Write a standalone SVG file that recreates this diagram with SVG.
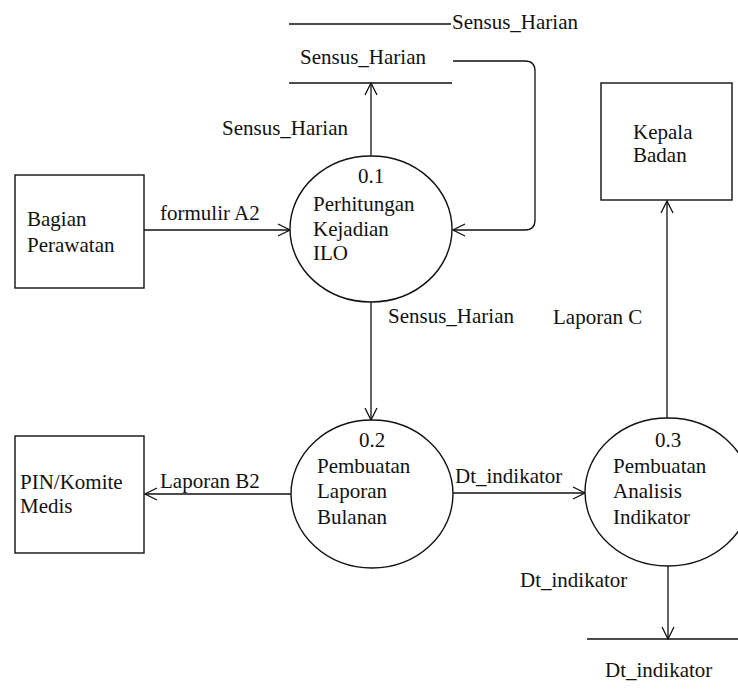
<svg xmlns="http://www.w3.org/2000/svg" width="738" height="696" viewBox="0 0 738 696">
  <style>
    text { font-family: 'Liberation Serif', 'DejaVu Serif', serif; font-size: 21px; fill: #111; }
    .ln { fill: none; stroke: #111; stroke-width: 1.3; }
    .shape { fill: #fff; stroke: #111; stroke-width: 1.4; }
    .mid { text-anchor: middle; }
  </style>
  <defs>
    <marker id="arrow" viewBox="0 0 14 14" refX="13" refY="7" markerWidth="14" markerHeight="14" markerUnits="userSpaceOnUse" orient="auto">
      <polyline points="1,1 13,7 1,13" fill="none" stroke="#111" stroke-width="1.3"/>
    </marker>
  </defs>

  <!-- data flows -->
  <g id="connectors">
    <!-- store Sensus_Harian -> 0.1 -->
    <path class="ln" d="M453 61 H525 Q535 61 535 71 V220 Q535 230 525 230 H453" marker-end="url(#arrow)"/>
    <!-- 0.1 -> store Sensus_Harian -->
    <line class="ln" x1="371" y1="156" x2="371" y2="83" marker-end="url(#arrow)"/>
    <text x="222" y="135">Sensus_Harian</text>
    <!-- Bagian Perawatan -> 0.1 -->
    <line class="ln" x1="144" y1="230" x2="290" y2="230" marker-end="url(#arrow)"/>
    <text x="160" y="220">formulir A2</text>
    <!-- 0.1 -> 0.2 -->
    <line class="ln" x1="371" y1="302" x2="371" y2="420" marker-end="url(#arrow)"/>
    <text x="388" y="323">Sensus_Harian</text>
    <!-- 0.2 -> PIN/Komite Medis -->
    <line class="ln" x1="291" y1="494" x2="145" y2="494" marker-end="url(#arrow)"/>
    <text x="160" y="488">Laporan B2</text>
    <!-- 0.2 -> 0.3 -->
    <line class="ln" x1="453" y1="493" x2="585" y2="493" marker-end="url(#arrow)"/>
    <text x="455" y="483">Dt_indikator</text>
    <!-- 0.3 -> Kepala Badan -->
    <line class="ln" x1="667" y1="418" x2="667" y2="201" marker-end="url(#arrow)"/>
    <text x="553" y="324">Laporan C</text>
    <!-- 0.3 -> store Dt_indikator -->
    <line class="ln" x1="668" y1="566" x2="668" y2="639" marker-end="url(#arrow)"/>
    <text x="520" y="587">Dt_indikator</text>
  </g>

  <!-- data store Sensus_Harian -->
  <g id="store-sensus">
    <line class="ln" x1="289" y1="24" x2="451" y2="24"/>
    <text x="452" y="29">Sensus_Harian</text>
    <text x="300" y="64">Sensus_Harian</text>
    <line class="ln" x1="289" y1="83" x2="452" y2="83"/>
  </g>

  <!-- data store Dt_indikator -->
  <g id="store-dt">
    <line class="ln" x1="587" y1="639" x2="738" y2="639"/>
    <text x="605" y="677">Dt_indikator</text>
  </g>

  <!-- external entities -->
  <g id="bagian-perawatan">
    <rect class="shape" x="15" y="175" width="129" height="113"/>
    <text x="27" y="226">Bagian</text>
    <text x="27" y="252">Perawatan</text>
  </g>
  <g id="pin-komite">
    <rect class="shape" x="15" y="436" width="129" height="117"/>
    <text x="20" y="489">PIN/Komite</text>
    <text x="20" y="513">Medis</text>
  </g>
  <g id="kepala-badan">
    <rect class="shape" x="601" y="83" width="131" height="117"/>
    <text x="633" y="139">Kepala</text>
    <text x="633" y="162">Badan</text>
  </g>

  <!-- processes -->
  <g id="p01">
    <ellipse class="shape" cx="371" cy="229" rx="81" ry="73"/>
    <text class="mid" x="371" y="183">0.1</text>
    <text x="313" y="211">Perhitungan</text>
    <text x="313" y="236">Kejadian</text>
    <text x="313" y="260">ILO</text>
  </g>
  <g id="p02">
    <ellipse class="shape" cx="372" cy="494" rx="81" ry="74"/>
    <text class="mid" x="372" y="447">0.2</text>
    <text x="317" y="473">Pembuatan</text>
    <text x="317" y="498">Laporan</text>
    <text x="317" y="524">Bulanan</text>
  </g>
  <g id="p03">
    <ellipse class="shape" cx="668" cy="492" rx="83" ry="74"/>
    <text class="mid" x="668" y="447">0.3</text>
    <text x="613" y="473">Pembuatan</text>
    <text x="613" y="498">Analisis</text>
    <text x="613" y="524">Indikator</text>
  </g>
</svg>
